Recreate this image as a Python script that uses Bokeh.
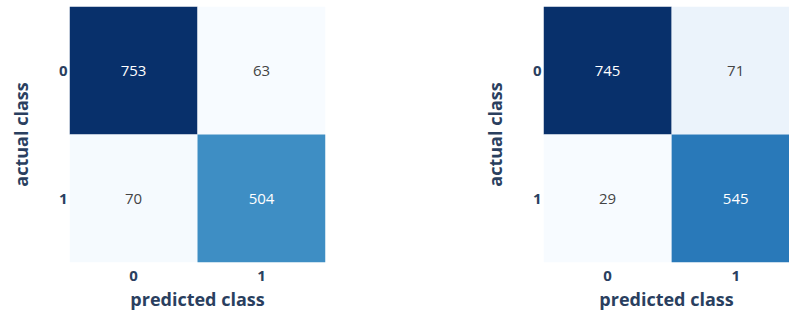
from bokeh.plotting import figure
from bokeh.models import ColumnDataSource, LinearColorMapper, Range1d, FixedTicker
from bokeh.layouts import row
from bokeh.palettes import Blues256
from bokeh.core.properties import value
from bokeh.embed import file_html
from bokeh.resources import INLINE

# ---- data ----
classes = ["0", "1"]
predicted = [0, 1, 0, 1]          # column index (predicted class)
actual = [0, 0, 1, 1]             # row index (actual class)
counts_a = [753, 63, 70, 504]
counts_b = [745, 71, 29, 545]
x_title = "predicted class"
y_title = "actual class"

FONT = "Open Sans"
AXIS_COLOR = "#2a3f5f"

pal = list(Blues256)
if pal[0].lower() == "#08306b":
    pal = pal[::-1]


def make(counts, width, min_left, min_right, x_end):
    lo, hi = min(counts), max(counts)
    mid = (lo + hi) / 2.0
    src = ColumnDataSource(dict(
        x=predicted, y=actual, v=counts,
        t=[str(c) for c in counts],
        tc=["#ffffff" if c > mid else "#444444" for c in counts],
    ))
    mapper = LinearColorMapper(palette=pal, low=lo, high=hi)
    p = figure(width=width, height=316, output_backend="svg", toolbar_location=None,
               x_range=Range1d(-0.5, x_end), y_range=Range1d(1.5, -0.5),
               min_border_left=min_left, min_border_right=min_right,
               min_border_top=6, min_border_bottom=54)
    p.rect(x="x", y="y", width=1, height=1, source=src,
           fill_color={"field": "v", "transform": mapper}, line_color=None)
    p.text(x="x", y="y", text="t", source=src, text_color="tc",
           text_align="center", text_baseline="middle",
           text_font=value(FONT), text_font_size="15px")
    p.outline_line_color = None
    p.grid.visible = False
    for ax in (p.xaxis[0], p.yaxis[0]):
        ax.ticker = FixedTicker(ticks=[0, 1])
        ax.major_label_overrides = {0: classes[0], 1: classes[1]}
        ax.axis_line_color = None
        ax.major_tick_line_color = None
        ax.minor_tick_line_color = None
        ax.major_tick_out = 0
        ax.major_tick_in = 0
        ax.major_label_text_font = FONT
        ax.major_label_text_font_style = "bold"
        ax.major_label_text_font_size = "15px"
        ax.major_label_text_color = AXIS_COLOR
        ax.axis_label_text_font = FONT
        ax.axis_label_text_font_style = "bold"
        ax.axis_label_text_font_size = "18px"
        ax.axis_label_text_color = AXIS_COLOR
    p.xaxis.axis_label = x_title
    p.yaxis.axis_label = y_title
    p.xaxis.major_label_standoff = 8
    p.xaxis.axis_label_standoff = 3
    p.yaxis.major_label_standoff = 2
    p.yaxis.axis_label_standoff = 23
    return p


p1 = make(counts_a, 474, 69, 149, 1.5)
p2 = make(counts_b, 315, 69, 0, 1.42)
layout = row(p1, p2)

open("out.html", "w").write(file_html(layout, INLINE))
